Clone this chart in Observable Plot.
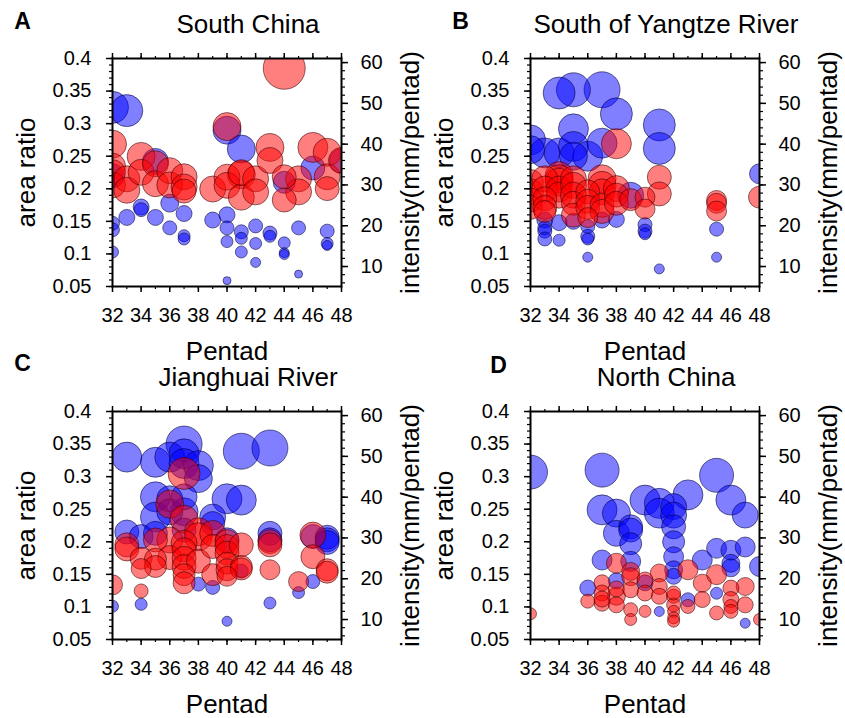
<!DOCTYPE html>
<html>
<head>
<meta charset="utf-8">
<script src="https://cdn.jsdelivr.net/npm/d3@7"></script>
<script src="https://cdn.jsdelivr.net/npm/@observablehq/plot@0.6"></script>
<style>
  body { margin: 0; background: #fff; }
  #wrap { position: relative; width: 845px; height: 718px; overflow: hidden; }
  #wrap svg { position: absolute; }
</style>
</head>
<body>
<div id="wrap"></div>
<script>
// ---- tick labels / scales ----
const pentadTicks = [32, 34, 36, 38, 40, 42, 44, 46, 48];
const areaTicks = [0.05, 0.1, 0.15, 0.2, 0.25, 0.3, 0.35, 0.4];
const intensityTicks = [10, 20, 30, 40, 50, 60];
const titles = ["South China", "South of Yangtze River", "Jianghuai River", "North China"];
const letters = ["A", "B", "C", "D"];

// ---- Panel A: South China ----
const aBlueP = [32,32,32,32,32,33,33,34,34,35,35,36,36,37,37,37,39,40,40,40,40,40,41,41,41,41,42,42,42,43,43,44,44,44,44,45,45,46,47,47,47,48];
const aBlueV = [0.325,0.22,0.147,0.137,0.103,0.32,0.156,0.172,0.168,0.156,0.242,0.178,0.14,0.162,0.128,0.123,0.152,0.29,0.16,0.14,0.119,0.059,0.261,0.134,0.124,0.103,0.143,0.116,0.087,0.132,0.127,0.21,0.117,0.102,0.099,0.14,0.069,0.232,0.135,0.116,0.113,0.243];
const aBlueS = [8,6,3.5,3.5,3,8,4,4,3.5,4,6.5,4.5,3.5,4,3,3,4,7,4,3.5,3,2,7,3.5,3,3,3.5,3,2.5,3.5,3,5.5,3,2.5,2.5,3.5,2,6,3.5,3,2.5,6];
const aRedP = [32,32,32,32,33,33,34,34,35,35,36,36,37,37,37,39,40,40,40,41,41,41,42,42,43,43,44,44,44,45,45,46,47,47,47,48];
const aRedI = [40.0,34.6,33.0,30.0,31.5,28.7,37.0,33.1,35.2,30.3,33.5,30.0,32.0,29.5,28.5,29.0,44.3,31.9,29.9,32.5,27.0,33.0,31.5,28.3,39.2,36.0,32.0,26.3,58.6,31.5,28.3,39.2,38.0,32.0,29.1,36.0];
const aRedS = [7,6.5,6.5,6.5,6.5,6.5,7,6.5,6.5,6.5,6.5,6.5,6.5,6.5,6,6.5,7,6.5,6.5,7,6.5,6.5,6.5,6.5,7,6.5,6,6,10.5,6.5,6.5,7.5,7,6.5,6,6.5];

// ---- Panel B: South of Yangtze River ----
const bBlueP = [32,32,33,33,33,33,33,34,34,34,34,35,35,35,35,35,36,36,36,36,36,37,37,37,38,38,39,40,40,40,41,41,41,45,45,48];
const bBlueV = [0.275,0.26,0.255,0.152,0.14,0.135,0.123,0.347,0.255,0.148,0.121,0.352,0.292,0.265,0.25,0.15,0.25,0.142,0.127,0.123,0.095,0.352,0.27,0.152,0.315,0.153,0.19,0.145,0.135,0.131,0.298,0.262,0.077,0.138,0.095,0.223];
const bBlueS = [7.5,7,7.5,4,3.5,3.5,3.5,8,7.5,4,3,8.5,7.5,7.5,7,4,7.5,3.5,3.5,3,2.5,9,7.5,4,8,4,6.5,3.5,3.5,3,8,8,2.5,3.5,2.5,5];
const bRedP = [32,32,32,32,33,33,33,33,33,34,34,34,34,34,35,35,35,35,35,36,36,36,36,37,37,37,37,37,38,38,38,38,39,40,40,41,41,45,45,45,48];
const bRedI = [30.6,28.3,26.3,24.5,31.5,29.0,26.6,24.5,23.5,32.3,31.5,30.7,29.0,27.5,31.5,29.9,27.5,25.5,22.6,28.3,26.0,24.5,22.0,31.5,29.9,28.3,25.0,23.5,40.1,29.1,27.5,25.5,26.4,27.0,24.1,31.9,27.8,26.2,25.5,23.6,27.0];
const bRedS = [6.5,6.5,6,6,6.5,6.5,6,6,5.5,7,7,7,6.5,6.5,6.5,6.5,6.5,6,6,6,6,6,5,7,7,6.5,6,6,7.5,6.5,6,6,5.5,5,5,6,6,5,5,5,5.5];

// ---- Panel C: Jianghuai River ----
const cBlueP = [32,33,33,34,34,35,35,35,35,36,36,36,37,37,37,37,37,37,38,38,38,39,39,39,40,40,40,41,41,41,43,43,43,43,45,46,46,47,47,47];
const cBlueV = [0.101,0.33,0.215,0.208,0.104,0.322,0.269,0.238,0.213,0.33,0.266,0.246,0.35,0.335,0.32,0.269,0.246,0.218,0.317,0.297,0.135,0.238,0.228,0.13,0.266,0.203,0.078,0.339,0.264,0.155,0.344,0.213,0.203,0.106,0.122,0.208,0.139,0.207,0.203,0.199];
const cBlueS = [3,7.5,6,6,3,7.5,7.5,7.5,6,7.5,6.5,6.5,9,7.5,7.5,6.5,7,6,7.5,7,3.5,6.5,6,3.5,7.5,6,2.5,9,7.5,3.5,9,6,6,3,3,6,3.5,6,6,6];
const cRedP = [32,33,33,34,34,34,35,35,35,36,36,36,37,37,37,37,37,37,37,37,38,38,38,39,39,39,40,40,40,40,40,40,41,41,41,43,43,43,45,46,46,47,47];
const cRedI = [18.5,28.3,27.3,25.0,22.5,17.0,29.5,24.8,23.0,38.3,29.5,25.2,45.8,34.6,28.7,27.1,25.0,23.0,21.0,19.0,31.5,30.3,24.3,31.1,27.9,21.0,29.1,27.9,26.3,23.8,22.2,20.6,28.3,23.0,22.4,29.1,28.3,22.2,19.3,30.7,25.4,22.2,21.6];
const cRedS = [5,6,6,5.5,5,3.5,6,5.5,5.5,7,6.5,6,8,7,6.5,6,6,6,5.5,5.5,7,7,6,6.5,6,5.5,6,6,6,5.5,5.5,5,6,5.5,5.5,6,6,5,5,6.5,6,5.5,5.5];

// ---- Panel D: North China ----
const dBlueP = [32,36,37,37,37,38,38,38,39,39,39,39,40,40,41,41,41,42,42,42,42,42,42,42,43,43,44,45,45,45,46,46,46,46,47,47,47,48];
const dBlueV = [0.307,0.129,0.31,0.249,0.172,0.244,0.213,0.14,0.223,0.218,0.197,0.17,0.264,0.137,0.259,0.244,0.093,0.254,0.241,0.223,0.2,0.177,0.157,0.147,0.272,0.111,0.172,0.302,0.19,0.121,0.264,0.187,0.167,0.16,0.241,0.192,0.075,0.162];
const dBlueS = [8.5,4,8.5,7.5,5,7,6.5,4,6,6,5.5,5,7.5,4,7.5,7.5,2.5,6.5,6.5,6,5.5,5,4.5,4,7.5,3.5,5,8.5,5,3,7.5,5,4.5,4.5,6.5,5,2.5,5];
const dRedP = [32,36,37,37,37,37,38,38,38,38,39,39,39,39,39,40,40,40,41,41,41,42,42,42,42,42,42,43,43,44,44,45,45,46,46,46,46,47,47,48];
const dRedI = [11.4,14.5,19.0,16.5,14.0,15.0,23.8,15.7,13.6,17.5,21.8,17.3,12.4,10.0,20.5,19.7,16.5,12.0,21.4,18.1,15.7,15.7,13.6,12.0,10.4,9.6,16.5,22.2,13.2,18.9,14.9,21.0,11.6,17.7,14.9,13.2,12.0,18.1,13.6,10.0];
const dRedS = [3,3.5,4,4,4,4,5,4.5,4,4,4.5,4,3.5,3,4.5,4,4,3,4.5,4,4,3.5,3.5,3,3,3,3.5,5,3.5,4.5,4,5,3.5,4,4,3.5,3.5,4.5,4,3];

// ---- build ----
const yR = d3.scaleLinear([5.1, 61], [0.05, 0.4]); // intensity -> area-ratio axis position
const font = "'Liberation Sans', Arial, Helvetica, sans-serif";
const W = 427, H = 365;

function panel(i, bp, bv, bs, rp, ri, rs, left, top, letterDx, letterDy) {
  const blue = bp.map((p, k) => ({p, v: bv[k], s: bs[k]}));
  const red = rp.map((p, k) => ({p, v: yR(ri[k]), s: rs[k]}));
  const T = {textAnchor: "middle", lineAnchor: "middle", fill: "#000"};
  const svg = Plot.plot({
    width: W, height: H,
    marginLeft: 112, marginRight: W - 341, marginTop: 58, marginBottom: H - 286,
    style: {background: "transparent", fontFamily: font, color: "#000", overflow: "visible"},
    x: {domain: [32, 48]},
    y: {domain: [0.05, 0.4]},
    r: {type: "linear", domain: [0, 10], range: [0, 20]},
    marks: [
      Plot.dot(blue, {x: "p", y: "v", r: "s", fill: "#0000ff", fillOpacity: 0.5, stroke: "#000033", strokeOpacity: 0.55, strokeWidth: 1, clip: true}),
      Plot.dot(red, {x: "p", y: "v", r: "s", fill: "#ff0000", fillOpacity: 0.5, stroke: "#330000", strokeOpacity: 0.55, strokeWidth: 1, clip: true}),
      // bottom axis
      Plot.axisX(pentadTicks, {anchor: "bottom", tickSize: 6, tickPadding: 15, strokeWidth: 1.5, fontSize: 20, label: null}),
      Plot.axisX(d3.range(32, 49), {anchor: "bottom", tickSize: 3, tickFormat: () => "", strokeWidth: 1.2, label: null}),
      // top axis
      Plot.axisX(pentadTicks, {anchor: "top", tickSize: 6, tickFormat: () => "", strokeWidth: 1.5, label: null}),
      Plot.axisX(d3.range(32, 49), {anchor: "top", tickSize: 3, tickFormat: () => "", strokeWidth: 1.2, label: null}),
      // left axis
      Plot.axisY(areaTicks, {anchor: "left", tickSize: 6, tickPadding: 15, strokeWidth: 1.5, fontSize: 20, label: null, tickFormat: d => String(+d.toFixed(2))}),
      Plot.axisY(d3.range(5, 41).map(d => d / 100), {anchor: "left", tickSize: 3, tickFormat: () => "", strokeWidth: 1.2, label: null}),
      // right axis (intensity)
      Plot.axisY(intensityTicks.map(yR), {anchor: "right", tickSize: 6, tickPadding: 13, strokeWidth: 1.5, fontSize: 20, label: null, tickFormat: d => String(Math.round(yR.invert(d)))}),
      Plot.axisY(d3.range(6, 61, 2).map(yR), {anchor: "right", tickSize: 3, tickFormat: () => "", strokeWidth: 1.2, label: null}),
      Plot.frame({stroke: "#000", strokeWidth: 2}),
      // texts
      Plot.text([titles[i]], {...T, frameAnchor: "top", dx: 21, dy: -34, fontSize: 26}),
      Plot.text([letters[i]], {...T, frameAnchor: "top-left", dx: letterDx, dy: letterDy, fontSize: 23, fontWeight: "bold"}),
      Plot.text(["area ratio"], {...T, frameAnchor: "left", dx: -86, rotate: -90, fontSize: 26}),
      Plot.text(["intensity(mm/pentad)"], {...T, frameAnchor: "right", dx: 69, rotate: -90, fontSize: 26}),
      Plot.text(["Pentad"], {...T, frameAnchor: "bottom", dy: 65, fontSize: 26})
    ]
  });
  svg.style.left = left + "px";
  svg.style.top = top + "px";
  return svg;
}

const wrap = document.getElementById("wrap");
wrap.appendChild(panel(0, aBlueP, aBlueV, aBlueS, aRedP, aRedI, aRedS, 0, 0, -90, -37));
wrap.appendChild(panel(1, bBlueP, bBlueV, bBlueS, bRedP, bRedI, bRedS, 418, 0, -70, -37));
wrap.appendChild(panel(2, cBlueP, cBlueV, cBlueS, cRedP, cRedI, cRedS, 0, 353, -90, -48));
wrap.appendChild(panel(3, dBlueP, dBlueV, dBlueS, dRedP, dRedI, dRedS, 418, 353, -32, -46));
</script>
</body>
</html>
